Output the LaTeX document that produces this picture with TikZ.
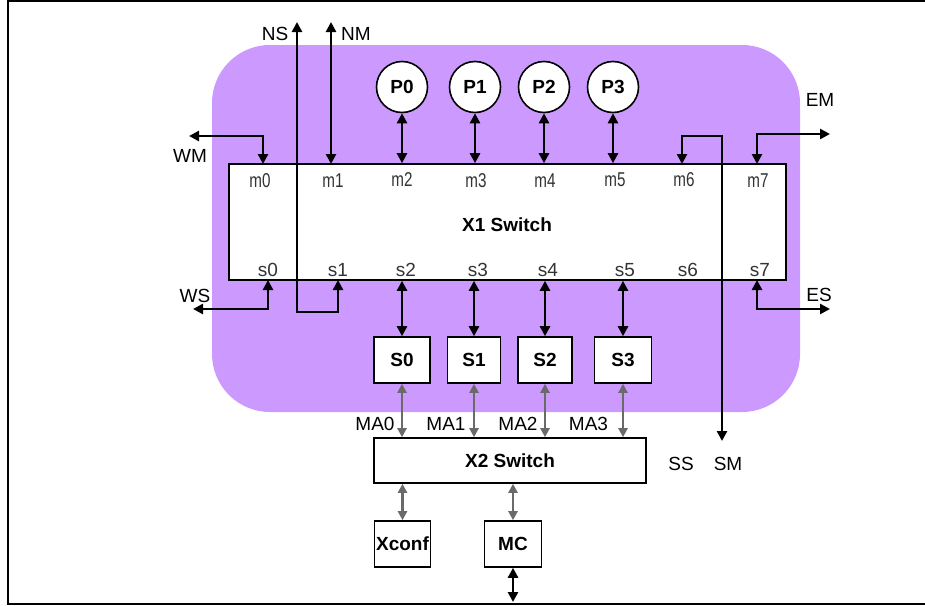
\documentclass[tikz,border=0pt]{standalone}
\usepackage{fontspec}
\setmainfont{Liberation Sans}
\newfontfamily\portfont[FakeStretch=0.76]{Liberation Sans}
\usetikzlibrary{arrows.meta}
\definecolor{purp}{HTML}{CC99FF}
\definecolor{garr}{HTML}{6A6A6A}
\definecolor{portcol}{HTML}{333333}
\begin{document}
\begin{tikzpicture}[x=1pt,y=-1pt,
  conn/.style={line width=2.6pt,{Triangle[length=10pt,width=10pt]}-{Triangle[length=10pt,width=10pt]}},
  gconn/.style={line width=2.6pt,draw=garr,{Triangle[length=9pt,width=9pt]}-{Triangle[length=9pt,width=9pt]}},
  lab/.style={font=\fontsize{19}{22}\selectfont,inner sep=0pt},
  bold/.style={font=\fontsize{19}{22}\selectfont\bfseries,inner sep=0pt},
  mport/.style={font=\portfont\fontsize{20}{22}\selectfont,text=portcol,inner sep=0pt},
  sport/.style={font=\fontsize{19}{22}\selectfont,text=portcol,inner sep=0pt},
  pnode/.style={circle,draw,line width=1.6pt,fill=white,minimum size=51pt,inner sep=0pt,font=\fontsize{19}{22}\selectfont\bfseries},
  bx/.style={rectangle,draw,line width=1.6pt,fill=white,inner sep=0pt,font=\fontsize{19}{22}\selectfont\bfseries}
]
\useasboundingbox (0,0) rectangle (925,605);
% frame
\draw[line width=2.5pt] (935,1) -- (7.8,1) -- (7.8,604) -- (935,604);
% purple region
\fill[purp,rounded corners=58pt] (212,45) rectangle (800,412);
% X1 switch
\node[bx,minimum width=557pt,minimum height=116pt] (X1) at (507.5,222) {};
\node[bold] (X1lab) at (507,225) {X1 Switch};
% port labels
\node[mport] (lm0) at (260,181) {m0};
\node[mport] (lm1) at (333,181) {m1};
\node[mport] (lm2) at (402,180) {m2};
\node[mport] (lm3) at (476,181) {m3};
\node[mport] (lm4) at (545,181) {m4};
\node[mport] (lm5) at (615,180) {m5};
\node[mport] (lm6) at (684,180) {m6};
\node[mport] (lm7) at (758,181) {m7};
\node[sport] (ls0) at (268,270) {s0};
\node[sport] (ls1) at (338,270) {s1};
\node[sport] (ls2) at (406,270) {s2};
\node[sport] (ls3) at (478,270) {s3};
\node[sport] (ls4) at (548,270) {s4};
\node[sport] (ls5) at (625,270) {s5};
\node[sport] (ls6) at (688,270) {s6};
\node[sport] (ls7) at (760,270) {s7};
% port coordinates
\coordinate (m0) at (263,164);
\coordinate (m1) at (331,164);
\coordinate (m6) at (682,164);
\coordinate (m7) at (757,164);
\coordinate (s0) at (268,280);
\coordinate (s1) at (338,280);
\coordinate (s7) at (757,280);
% processors
\node[pnode] (P0) at (402,87) {P0};
\node[pnode] (P1) at (475,87) {P1};
\node[pnode] (P2) at (544,87) {P2};
\node[pnode] (P3) at (613,87) {P3};
% slaves
\node[bx,minimum width=56pt,minimum height=46pt] (S0) at (402,360) {S0};
\node[bx,minimum width=53pt,minimum height=46pt] (S1) at (474,360) {S1};
\node[bx,minimum width=54pt,minimum height=46pt] (S2) at (545,360) {S2};
\node[bx,minimum width=57pt,minimum height=46pt] (S3) at (623,360) {S3};
% X2
\node[bx,minimum width=272pt,minimum height=45pt] (X2) at (510,460.5) {X2 Switch};
\node[bx,minimum width=56pt,minimum height=46pt] (Xconf) at (402.5,544) {Xconf};
\node[bx,minimum width=57pt,minimum height=46pt] (MC) at (513,544) {MC};
\coordinate (MCout) at (513,602);
% P to X1
\foreach \p in {P0,P1,P2,P3}{
  \draw[conn] (\p.south) -- (\p.south |- X1.north);
}
% X1 to S
\foreach \s in {S0,S1,S2,S3}{
  \draw[conn] (\s.north |- X1.south) -- (\s.north);
}
% S to X2
\foreach \s in {S0,S1,S2,S3}{
  \draw[gconn] (\s.south) -- (\s.south |- X2.north);
}
\draw[gconn] (Xconf.north |- X2.south) -- (Xconf.north);
\draw[gconn] (MC.north |- X2.south) -- (MC.north);
\draw[conn] (MC.south) -- (MCout);
% external links
\coordinate (WMend) at (189,136);
\coordinate (WSend) at (193,309);
\coordinate (NMend) at (331,22);
\coordinate (NSend) at (297,22);
\coordinate (EMend) at (830,134);
\coordinate (ESend) at (830,309);
\coordinate (SMend) at (722,441);
\draw[conn] (m0) |- (WMend);
\draw[conn] (s0) |- (WSend);
\draw[conn] (m1) -- (NMend);
\draw[conn] (s1) |- (297,312) -- (NSend);
\draw[conn] (m7) |- (EMend);
\draw[conn] (s7) |- (ESend);
\draw[conn] (m6) |- (722,136) -- (SMend);
% labels
\node[lab] (tNS) at (275,34) {NS};
\node[lab] (tNM) at (356,34) {NM};
\node[lab] (tWM) at (190,156) {WM};
\node[lab] (tWS) at (195,296) {WS};
\node[lab] (tEM) at (820,100) {EM};
\node[lab] (tES) at (819,295) {ES};
\node[lab] (tMA0) at (375,424) {MA0};
\node[lab] (tMA1) at (446,424) {MA1};
\node[lab] (tMA2) at (518,424) {MA2};
\node[lab] (tMA3) at (588.5,424) {MA3};
\node[lab] (tSS) at (681,464) {SS};
\node[lab] (tSM) at (728,464) {SM};
\end{tikzpicture}
\end{document}
